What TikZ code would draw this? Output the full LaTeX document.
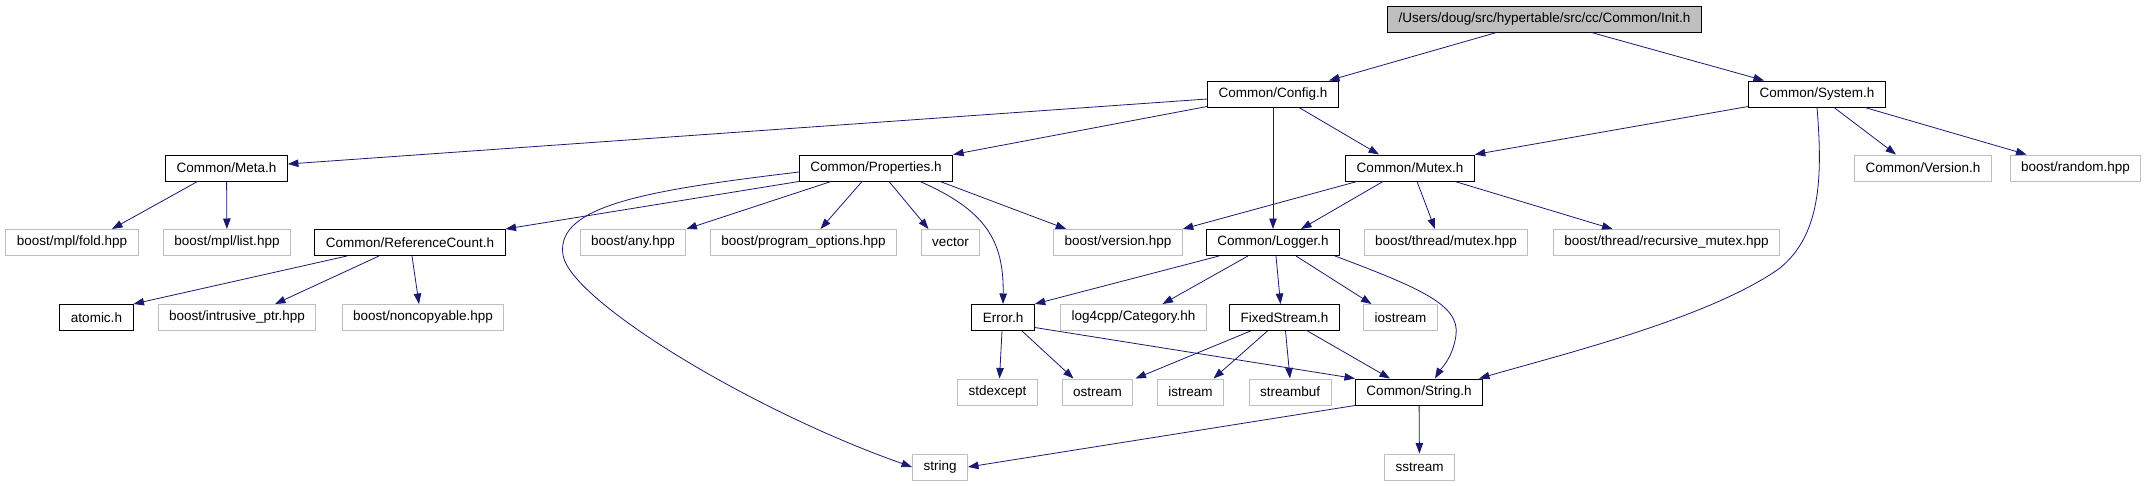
\documentclass[tikz,border=0pt]{standalone}
\usepackage{fontspec}
\usepackage{xcolor}
\usetikzlibrary{arrows.meta}
\setmainfont{Liberation Sans}
\definecolor{MidnightEdge}{RGB}{25,25,112}
\definecolor{BoxGray}{RGB}{191,191,191}

\begin{document}
\begin{tikzpicture}[x=1pt, y=-1pt,
  every node/.style={font=\fontsize{13.5}{16}\selectfont, inner xsep=11pt, inner ysep=0pt, minimum height=26pt},
  hdr/.style={draw=black, line width=1pt, fill=white},
  ext/.style={draw=BoxGray, line width=1pt, fill=white},
  root/.style={draw=black, line width=1pt, fill=BoxGray},
  dep/.style={MidnightEdge, line width=0.8pt, -{Triangle[length=10.5pt,width=7.5pt]}}]
  \useasboundingbox (0,0) rectangle (2152,485);
  % files
  \node[root] (init) at (1544.5,19) {/Users/doug/src/hypertable/src/cc/Common/Init.h};
  \node[hdr] (config) at (1273,94) {Common/Config.h};
  \node[hdr] (system) at (1817,94) {Common/System.h};
  \node[hdr] (meta) at (226.5,168) {Common/Meta.h};
  \node[hdr] (props) at (876,168) {Common/Properties.h};
  \node[hdr] (mutex) at (1410,168) {Common/Mutex.h};
  \node[ext] (cversion) at (1923,168) {Common/Version.h};
  \node[ext] (random) at (2075.5,168) {boost/random.hpp};
  \node[ext] (fold) at (72,242.5) {boost/mpl/fold.hpp};
  \node[ext] (list) at (227,242.5) {boost/mpl/list.hpp};
  \node[hdr] (refcount) at (410,242.5) {Common/ReferenceCount.h};
  \node[ext] (any) at (633,242.5) {boost/any.hpp};
  \node[ext] (progopt) at (803.5,242.5) {boost/program\_options.hpp};
  \node[ext] (vector) at (950.5,242.5) {vector};
  \node[ext] (bversion) at (1118,242.5) {boost/version.hpp};
  \node[hdr] (logger) at (1273,242.5) {Common/Logger.h};
  \node[ext] (thrmutex) at (1446,242.5) {boost/thread/mutex.hpp};
  \node[ext] (recmutex) at (1666.5,242.5) {boost/thread/recursive\_mutex.hpp};
  \node[hdr] (atomic) at (96.5,317.5) {atomic.h};
  \node[ext] (intrusive) at (237,317.5) {boost/intrusive\_ptr.hpp};
  \node[ext] (noncopy) at (423,317.5) {boost/noncopyable.hpp};
  \node[hdr] (error) at (1003,317.5) {Error.h};
  \node[ext] (log4cpp) at (1133.5,317.5) {log4cpp/Category.hh};
  \node[hdr] (fixed) at (1284.5,317.5) {FixedStream.h};
  \node[ext] (iostream) at (1400.5,317.5) {iostream};
  \node[ext] (stdexcept) at (997.5,392) {stdexcept};
  \node[ext] (ostream) at (1097.5,392) {ostream};
  \node[ext] (istream) at (1190.5,392) {istream};
  \node[ext] (streambuf) at (1290,392) {streambuf};
  \node[hdr] (stringh) at (1419,392) {Common/String.h};
  \node[ext] (string) at (940,467) {string};
  \node[ext] (sstream) at (1419.5,467) {sstream};
  % includes
  \draw[dep] ([xshift=-48pt]init.south) -- ([xshift=56pt]config.north);
  \draw[dep] ([xshift=47pt]init.south) -- ([xshift=-53pt]system.north);
  \draw[dep] ([yshift=-5pt]config.west) -- ([yshift=4pt]meta.east);
  \draw[dep] ([yshift=1pt]config.south west) -- (props.north east);
  \draw[dep] (config) -- (logger);
  \draw[dep] ([xshift=26pt]config.south) -- ([xshift=-31pt]mutex.north);
  \draw[dep] ([yshift=1pt]system.south west) -- (mutex.north east);
  \draw[dep] ([xshift=17pt]system.south) -- ([xshift=-27pt]cversion.north);
  \draw[dep] ([xshift=48pt]system.south) -- ([xshift=-49pt]random.north);
  \draw[dep] (system.south) .. controls (1823,180) and (1820,235) .. (1780,268)
    .. controls (1710,318) and (1560,355) .. ([xshift=-4pt]stringh.north east);
  \draw[dep] ([xshift=-29pt]meta.south) -- ([xshift=40pt]fold.north);
  \draw[dep] (meta) -- (list);
  \draw[dep] (props.south west) -- (refcount.north east);
  \draw[dep] ([yshift=-4pt]props.west) .. controls (650,190) and (555,205) .. (563,255)
    .. controls (570,300) and (750,410) .. (string.west);
  \draw[dep] ([xshift=-45pt]props.south) -- (any.north east);
  \draw[dep] ([xshift=-14pt]props.south) -- ([xshift=17pt]progopt.north);
  \draw[dep] ([xshift=13pt]props.south) -- ([xshift=-22pt]vector.north);
  \draw[dep] ([xshift=44pt]props.south) .. controls (985,210) and (1004,240) .. (error.north);
  \draw[dep] ([xshift=-13pt]props.south east) -- ([xshift=13pt]bversion.north west);
  \draw[dep] ([xshift=-53pt]mutex.south) -- (bversion.north east);
  \draw[dep] ([xshift=-27pt]mutex.south) -- ([xshift=28pt]logger.north);
  \draw[dep] ([xshift=7pt]mutex.south) -- ([xshift=-11pt]thrmutex.north);
  \draw[dep] ([xshift=45pt]mutex.south) -- ([xshift=-54pt]recmutex.north);
  \draw[dep] ([xshift=-63pt]refcount.south) -- (atomic.north east);
  \draw[dep] ([xshift=-31pt]refcount.south) -- ([xshift=38pt]intrusive.north);
  \draw[dep] ([xshift=2pt]refcount.south) -- ([xshift=-4pt]noncopy.north);
  \draw[dep] ([xshift=-54pt]logger.south) -- (error.north east);
  \draw[dep] ([xshift=-25pt]logger.south) -- ([xshift=29pt]log4cpp.north);
  \draw[dep] ([xshift=3pt]logger.south) -- ([xshift=-4pt]fixed.north);
  \draw[dep] ([xshift=23pt]logger.south) -- ([xshift=-29pt]iostream.north);
  \draw[dep] ([xshift=-5pt]logger.south east) .. controls (1420,288) and (1460,305) .. (1456,335)
    .. controls (1453,358) and (1440,370) .. ([xshift=16pt]stringh.north);
  \draw[dep] ([xshift=-1pt]error.south) -- ([xshift=2pt]stdexcept.north);
  \draw[dep] ([xshift=19pt]error.south) -- ([xshift=-24pt]ostream.north);
  \draw[dep] ([yshift=-10pt]error.east) -- (stringh.north west);
  \draw[dep] ([xshift=-34pt]fixed.south) -- ([xshift=38pt]ostream.north);
  \draw[dep] ([xshift=-17pt]fixed.south) -- ([xshift=23pt]istream.north);
  \draw[dep] ([xshift=1pt]fixed.south) -- (streambuf.north);
  \draw[dep] ([xshift=23pt]fixed.south) -- ([xshift=-29pt]stringh.north);
  \draw[dep] (stringh.south west) -- (string.east);
  \draw[dep] (stringh) -- (sstream);
\end{tikzpicture}
\end{document}
